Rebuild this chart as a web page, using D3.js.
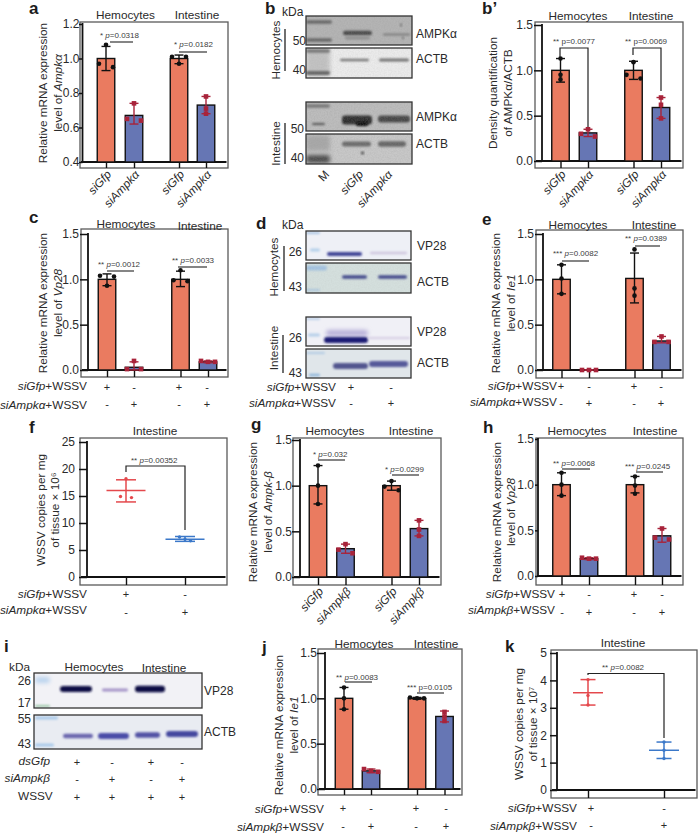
<!DOCTYPE html>
<html><head><meta charset="utf-8">
<script src="https://cdn.jsdelivr.net/npm/d3@7"></script>
<style>
html,body{margin:0;padding:0;background:#fff}
svg{display:block}
text{font-family:"Liberation Sans",Arial,sans-serif;fill:#2a2a2a}
</style></head><body><div id="chart"></div>
<script>
// ---------- DATA ----------
const headers = ["Hemocytes", "Intestine"];
const barIds = ["g1", "g2", "g3", "g4"];
const labelsA = ["siGfp", "siAmpkα", "siGfp", "siAmpkα"];
const labelsB = ["siGfp", "siAmpkβ", "siGfp", "siAmpkβ"];
const plusMinusA = [["+","-","+","-"],["-","+","-","+"]];

const aMeans=[1.0,0.67,1.0,0.73], aLo=[0.93,0.62,0.97,0.68], aHi=[1.07,0.74,1.02,0.78];
const aPts=[[1.08,0.95,0.97],[0.74,0.64,0.65],[1.01,1.01,0.97],[0.78,0.71,0.68]];
const bpMeans=[1.0,0.31,1.0,0.59], bpLo=[0.87,0.27,0.9,0.47], bpHi=[1.13,0.35,1.1,0.7];
const bpPts=[[1.13,0.95,0.9],[0.35,0.3,0.27],[1.09,0.95,0.91],[0.7,0.62,0.47]];
const cMeans=[1.0,0.03,1.0,0.09], cLo=[0.93,0,0.92,0.08], cHi=[1.06,0.09,1.09,0.1];
const cPts=[[1.04,1.03,0.93],[0.1,0.01,0.01],[1.1,0.98,0.99],[0.1,0.09,0.09]];
const eMeans=[1.0,0,1.01,0.32], eLo=[0.84,0,0.74,0.3], eHi=[1.16,0,1.29,0.37];
const ePts=[[1.16,1.01,0.84],[0,0,0],[1.33,0.9,0.82],[0.37,0.31,0.31]];
const gMeans=[1.0,0.31,1.0,0.53], gLo=[0.8,0.26,0.95,0.45], gHi=[1.22,0.36,1.05,0.62];
const gPts=[[1.22,1.0,0.8],[0.36,0.3,0.26],[1.05,0.99,0.95],[0.62,0.52,0.45]];
const hMeans=[1.0,0.19,1.0,0.44], hLo=[0.88,0.18,0.91,0.37], hHi=[1.13,0.2,1.09,0.52];
const hPts=[[1.13,1.0,0.88],[0.2,0.19,0.19],[1.09,0.99,0.9],[0.52,0.4,0.42]];
const jMeans=[1.0,0.2,1.0,0.8], jLo=[0.88,0.18,0.99,0.74], jHi=[1.12,0.22,1.01,0.86];
const jPts=[[1.12,1.0,0.88],[0.19,0.22,0.2],[1.0,1.01,1.0],[0.85,0.8,0.75]];
const fMeans=[16,7], fLo=[13.9,6.6], fHi=[18,7.5], fPts=[[18.2,14.7,14.9],[7.4,7.0,6.7]];
const kMeans=[3.55,1.45], kLo=[3.1,1.15], kHi=[4.03,1.75], kPts=[[4.03,3.45,3.1],[1.75,1.45,1.15]];

const ORANGE="#EA7B60", BLUE="#6676B4", DARKRED="#A8233A", LINERED="#E4484C", LINEBLUE="#3B78C9";
const FRAME="#5a5a5a";
const W=698,H=835;
const svg=d3.select("#chart").append("svg").attr("width",W).attr("height",H);
const defs=svg.append("defs");
[0.8,1.3,2.2].forEach((s,i)=>defs.append("filter").attr("id","blur"+i).attr("x","-30%").attr("y","-120%").attr("width","160%").attr("height","340%")
  .append("feGaussianBlur").attr("stdDeviation",s));
const grain=defs.append("filter").attr("id","grain").attr("x","0").attr("y","0").attr("width","100%").attr("height","100%");
grain.append("feTurbulence").attr("type","fractalNoise").attr("baseFrequency","0.7").attr("numOctaves","2").attr("seed","4");
grain.append("feColorMatrix").attr("values","0 0 0 0 0.3  0 0 0 0 0.3  0 0 0 0 0.3  0 0 0 1.1 -0.35");

function rich(parent,x,y,str,o={}){
  const t=parent.append("text").attr("x",x).attr("y",y).attr("font-size",o.size||11.8)
    .attr("text-anchor",o.anchor||"start");
  if(o.fill) t.style("fill",o.fill);
  if(o.bold) t.attr("font-weight","bold");
  if(o.mid) t.attr("dominant-baseline","central");
  str.split("_").forEach((s,i)=>{ if(s) t.append("tspan").attr("font-style",i%2?"italic":"normal").text(s); });
  return t;
}
function vtext(x,cy,str,o={}){
  return rich(svg,0,0,str,Object.assign({anchor:"middle"},o)).attr("transform",`translate(${x},${cy}) rotate(-90)`);
}
function letter(x,y,s){ rich(svg,x,y,s,{size:17,bold:true,fill:"#1c1c1c"}); }

function frameRect(f){
  svg.append("rect").attr("x",f[0]).attr("y",f[1]).attr("width",f[2]-f[0]).attr("height",f[3]-f[1])
    .attr("fill","none").attr("stroke",FRAME).attr("stroke-width",1.3);
}
function axes(c,ids,fmt){
  const y=d3.scaleLinear().domain(c.yDomain).range(c.yRange);
  const x=d3.scaleOrdinal().domain(ids).range(c.centers);
  const f=c.frame;
  const gy=svg.append("g").attr("transform",`translate(${c.axisX},0)`)
    .call(d3.axisLeft(y).tickValues(c.ticks).tickFormat(fmt).tickSize(c.axisX-f[0]+1).tickPadding(c.tickRight?0:2));
  gy.selectAll("text").attr("font-size",12).attr("x",c.tickRight-c.axisX);
  gy.selectAll("line").attr("stroke","#111").attr("stroke-width",1.5);
  gy.select(".domain").remove();
  svg.append("line").attr("x1",c.axisX).attr("x2",c.axisX).attr("y1",y(c.ticks[c.ticks.length-1])-1).attr("y2",c.yRange[0])
    .attr("stroke","#111").attr("stroke-width",1.8);
  const gx=svg.append("g").attr("transform",`translate(0,${c.yRange[0]})`)
    .call(d3.axisBottom(x).tickValues(ids).tickFormat("").tickSize(f[3]-c.yRange[0]));
  gx.select(".domain").remove();
  gx.selectAll("line").attr("stroke","#111").attr("stroke-width",1.4);
  svg.append("line").attr("x1",f[0]+1).attr("x2",f[2]-1.5).attr("y1",c.yRange[0]).attr("y2",c.yRange[0])
    .attr("stroke","#111").attr("stroke-width",1.8);
  return {x,y};
}
// spread nearly equal replicates sideways, like a swarm plot
function swarm(vals,y,step,near){
  const idx=vals.map((v,i)=>i).sort((a,b)=>vals[b]-vals[a]);
  const out=vals.map(()=>0); let run=[idx[0]];
  const flush=()=>{ if(run.length===2){out[run[0]]=-step;out[run[1]]=step;}
    if(run.length===3){out[run[0]]=-step;out[run[1]]=0;out[run[2]]=step;} };
  for(let i=1;i<idx.length;i++){
    if(Math.abs(y(vals[idx[i]])-y(vals[run[run.length-1]]))<near) run.push(idx[i]);
    else {flush();run=[idx[i]];}
  }
  flush(); return out;
}
function pvals(list){
  list.forEach(p=>{
    rich(svg,p.x,p.y,p.t,{size:8,fill:"#3d3d3d"});
    if(p.line) svg.append("line").attr("x1",p.line[0]).attr("x2",p.line[1]).attr("y1",p.line[2]).attr("y2",p.line[2])
      .attr("stroke","#222").attr("stroke-width",1.1);
    if(p.path) svg.append("path").attr("d",d3.line()(p.path)).attr("fill","none").attr("stroke","#222").attr("stroke-width",1.2);
  });
}
function pmRows(xs,rows,ys,sz){
  rows.forEach((r,ri)=>r.forEach((s,i)=>rich(svg,xs[i],ys[ri],s,{size:sz||11,anchor:"middle",mid:true})));
}
function rowLabels(list,x){ list.forEach(l=>rich(svg,x,l[1],l[0],{anchor:"end"})); }

function barPanel(c,means,lo,hi,pts,fmt){
  frameRect(c.frame);
  const {x,y}=axes(c,barIds,fmt);
  const bw=c.barW||17.5, base=c.yRange[0];
  svg.append("g").selectAll("rect").data(means).join("rect")
    .attr("x",(d,i)=>x(barIds[i])-bw/2).attr("width",bw)
    .attr("y",d=>y(d)).attr("height",d=>base-y(d))
    .attr("fill",(d,i)=>i%2?BLUE:ORANGE).attr("stroke","#111").attr("stroke-width",1.4);
  means.forEach((m,i)=>{
    const cx=x(barIds[i]), col=i%2?DARKRED:"#111";
    const g=svg.append("g").attr("stroke",col).attr("stroke-width",1.4);
    g.append("line").attr("x1",cx).attr("x2",cx).attr("y1",y(hi[i])).attr("y2",y(lo[i]));
    [lo[i],hi[i]].forEach(v=>g.append("line").attr("x1",cx-4.5).attr("x2",cx+4.5).attr("y1",y(v)).attr("y2",y(v)));
    const off=swarm(pts[i],y,7,4.2);
    pts[i].forEach((v,k)=>{
      if(i%2) svg.append("rect").attr("x",cx+off[k]-2.3).attr("y",y(v)-2.3).attr("width",4.6).attr("height",4.6).attr("fill",col);
      else svg.append("circle").attr("cx",cx+off[k]).attr("cy",y(v)).attr("r",2.3).attr("fill",col);
    });
  });
  c.heads.forEach((h,i)=>rich(svg,h[0],h[1],headers[i],{anchor:"middle"}));
  vtext(c.title[0],c.title[2],c.titleText[0]);
  vtext(c.title[1],c.title[2],c.titleText[1]);
  if(c.xLabels) c.xLabels.forEach((l,i)=>{
    rich(svg,0,0,"_"+l+"_",{anchor:"end"}).attr("transform",`translate(${c.centers[i]+c.xl[0]},${c.xl[1]}) rotate(-47)`);
  });
  pvals(c.p);
}
function scatterPanel(c,ids,means,lo,hi,pts,span,cap){
  frameRect(c.frame);
  const {x,y}=axes(c,ids,d3.format("d"));
  means.forEach((m,i)=>{
    const cx=x(ids[i]), col=i?LINEBLUE:LINERED;
    const g=svg.append("g").attr("stroke",col).attr("stroke-width",1.5);
    g.append("line").attr("x1",cx).attr("x2",cx).attr("y1",y(hi[i])).attr("y2",y(lo[i]));
    g.append("line").attr("x1",cx-span).attr("x2",cx+span).attr("y1",y(m)).attr("y2",y(m));
    [lo[i],hi[i]].forEach(v=>g.append("line").attr("x1",cx-cap).attr("x2",cx+cap).attr("y1",y(v)).attr("y2",y(v)));
    const off=swarm(pts[i],y,5.5,3);
    pts[i].forEach((v,k)=>svg.append("circle").attr("cx",cx+off[k]).attr("cy",y(v)).attr("r",1.7).attr("fill",col));
  });
  rich(svg,c.head[0],c.head[1],"Intestine",{anchor:"middle"});
  vtext(c.title[0],c.title[2],c.titleText[0]);
  vtext(c.title[1],c.title[2],c.titleText[1]);
  pvals(c.p);
}
const f1=d3.format(".1f");

// ---------- a ----------
barPanel({frame:[80,22,228,168],axisX:82.5,tickRight:79.5,yDomain:[0.4,1.2],yRange:[162,24],ticks:[0.4,0.6,0.8,1.0,1.2],
  centers:[106,134,179,206],heads:[[125.5,18.5],[197,18.5]],title:[46.5,62,93],
  titleText:["Relative mRNA expression","level of _Ampkα_"],xLabels:labelsA,xl:[6,175],
  p:[{x:100,y:37.5,t:"* _p_=0.0318",line:[110,133,42]},{x:174,y:47,t:"* _p_=0.0182",line:[179,207,52]}]},
  aMeans,aLo,aHi,aPts,f1);
// ---------- b' ----------
barPanel({frame:[535,22,683,168],axisX:542,tickRight:533,yDomain:[0,1.5],yRange:[161,25],ticks:[0,0.5,1.0,1.5],
  centers:[560.5,588,633.5,661],heads:[[578,20],[651,20]],title:[497,512,93],
  titleText:["Density quantification","of AMPKα/ACTB"],xLabels:labelsA,xl:[6,175],
  p:[{x:553,y:44,t:"** p=0.0077",path:[[560,57],[560,48],[588,48],[588,127]]},
     {x:625,y:44,t:"** p=0.0069",path:[[633,55],[633,48],[661,48],[661,91]]}]},
  bpMeans,bpLo,bpHi,bpPts,f1);
// ---------- c ----------
barPanel({frame:[81,229,228,377],axisX:88,tickRight:79,yDomain:[0,1.5],yRange:[370,234],ticks:[0,0.5,1.0,1.5],
  centers:[107,134,180.5,208],heads:[[126,228],[200,230]],title:[46.5,62,303],
  titleText:["Relative mRNA expression","level of _Vp28_"],
  p:[{x:98,y:267,t:"** _p_=0.0012",line:[107,134,271]},{x:172,y:263,t:"** _p_=0.0033",line:[178,207,267]}]},
  cMeans,cLo,cHi,cPts,f1);
rowLabels([["_siGfp_+WSSV",390],["_siAmpkα_+WSSV",409]],87);
pmRows([107,134,179,207],plusMinusA,[387,404]);
// ---------- e ----------
barPanel({frame:[536,230,683,378],axisX:543,tickRight:534,yDomain:[0,1.5],yRange:[370,234],ticks:[0,0.5,1.0,1.5],
  centers:[561.5,589,634.5,661.5],heads:[[578,229],[654,229]],title:[500,515,303],
  titleText:["Relative mRNA expression","level of _Ie1_"],
  p:[{x:553,y:256,t:"*** _p_=0.0082",line:[562,589,261]},{x:625,y:241,t:"** _p_=0.0389",line:[635,660,246]}]},
  eMeans,eLo,eHi,ePts,f1);
rowLabels([["_siGfp_+WSSV",390],["_siAmpkα_+WSSV",406]],557);
pmRows([561,589,634,661],plusMinusA,[386,403]);
// ---------- g ----------
barPanel({frame:[293,438,441,585],axisX:300,tickRight:292,yDomain:[0,1.5],yRange:[577,440],ticks:[0,0.5,1.0,1.5],
  centers:[318,345.5,391.5,419],heads:[[335,435],[411,435]],title:[257,272,512],
  titleText:["Relative mRNA expression","level of _Ampk-β_"],xLabels:labelsB,xl:[6,592],
  p:[{x:313,y:457,t:"* _p_=0.032",line:[318,345,460]},{x:385,y:472,t:"* _p_=0.0299",line:[392,419,475]}]},
  gMeans,gLo,gHi,gPts,f1);
// ---------- h ----------
barPanel({frame:[536,438,683,585],axisX:538,tickRight:534,yDomain:[0,1.5],yRange:[576,439],ticks:[0,0.5,1.0,1.5],
  centers:[561.5,589,635,662],heads:[[577,435],[655,435]],title:[501,515,512],
  titleText:["Relative mRNA expression","level of _Vp28_"],
  p:[{x:553,y:466,t:"** _p_=0.0068",line:[562,590,469]},{x:625,y:469,t:"*** _p_=0.0245",line:[636,663,472]}]},
  hMeans,hLo,hHi,hPts,f1);
rowLabels([["_siGfp_+WSSV",598],["_siAmpkβ_+WSSV",614]],555);
pmRows([562,589,634,662],plusMinusA,[594,612]);
// ---------- j ----------
barPanel({frame:[318,649,462,795],axisX:325,tickRight:317,yDomain:[0,1.5],yRange:[789,653],ticks:[0,0.5,1.0,1.5],
  centers:[344,371,417,444.5],heads:[[364,648],[436,648]],title:[283,298,725],
  titleText:["Relative mRNA expression","level of _Ie1_"],
  p:[{x:336,y:680,t:"** _p_=0.0083",line:[345,372,682]},{x:407,y:690,t:"*** p=0.0105",line:[417,444,693]}]},
  jMeans,jLo,jHi,jPts,f1);
rowLabels([["_siGfp_+WSSV",813],["_siAmpkβ_+WSSV",831]],324);
pmRows([343,371,416,446],plusMinusA,[808,826]);
// ---------- f ----------
scatterPanel({frame:[80,438,227,585],axisX:87,tickRight:75,yDomain:[0,25],yRange:[577,442],ticks:[0,5,10,15,20,25],
  centers:[126,185],head:[155,435],title:[45,59,510],titleText:["WSSV copies per mg","of tissue × 10⁶"],
  p:[{x:131,y:463,t:"** _p_=0.00352",path:[[126,472],[126,466],[185,466],[185,530]]}]},
  ["s1","s2"],fMeans,fLo,fHi,fPts,19.5,10);
rowLabels([["_siGfp_+WSSV",598],["_siAmpkα_+WSSV",614]],87);
pmRows([126,185],[["+","-"],["-","+"]],[594,612]);
// ---------- k ----------
scatterPanel({frame:[551,650,697,798],axisX:557,tickRight:547,yDomain:[0,5],yRange:[790,653],ticks:[0,1,2,3,4,5],
  centers:[588,664],head:[623,647],title:[523,537,724],titleText:["WSSV copies per mg","of tissue × 10⁷"],
  p:[{x:602,y:670,t:"** _p_=0.0082",path:[[588,675],[588,673.5],[664,673.5],[664,738]]}]},
  ["s1","s2"],kMeans,kLo,kHi,kPts,15,7.5);
rowLabels([["_siGfp_+WSSV",812],["_siAmpkβ_+WSSV",830]],577);
pmRows([591,664],[["+","-"],["-","+"]],[808,825]);

// ---------- blots (images in the source, painted as blurred bands) ----------
function blot(box,bg,bands,noise){
  const [x0,y0,x1,y1]=box;
  const clip="c"+x0+"_"+y0;
  defs.append("clipPath").attr("id",clip).append("rect").attr("x",x0).attr("y",y0).attr("width",x1-x0).attr("height",y1-y0);
  svg.append("rect").attr("x",x0).attr("y",y0).attr("width",x1-x0).attr("height",y1-y0).attr("fill",bg);
  const g=svg.append("g").attr("clip-path",`url(#${clip})`);
  bands.forEach(b=>{
    g.append("rect").attr("x",b[0]).attr("width",b[1]-b[0]).attr("y",b[2]-b[3]/2).attr("height",b[3]).attr("rx",Math.min(b[3]/2,3))
      .attr("fill",b[4]).attr("filter",`url(#blur${b[5]===undefined?1:b[5]})`);
  });
  if(noise) svg.append("rect").attr("x",x0).attr("y",y0).attr("width",x1-x0).attr("height",y1-y0)
    .attr("filter","url(#grain)").attr("opacity",noise);
  svg.append("rect").attr("x",x0).attr("y",y0).attr("width",x1-x0).attr("height",y1-y0)
    .attr("fill","none").attr("stroke","#333").attr("stroke-width",1.3);
}
function blotText(list){ list.forEach(l=>rich(svg,l[0],l[1],l[2],{size:12,mid:true,anchor:l[3]||"start"})); }
function vbar(x,y0,y1){ svg.append("line").attr("x1",x).attr("x2",x).attr("y1",y0).attr("y2",y1).attr("stroke","#222").attr("stroke-width",1.3); }

// b
blot([306,16,412,45],"#b4b4b4",[[306,332,22,3.5,"#666"],[306,332,40,3.5,"#666"],[343,372,33,4.5,"#4a4a4a"],[345,370,38,3,"#8f8f8f"],[383,410,34.5,1.8,"#7a7a7a",0],[400,402,25,1.6,"#222",0],[402,404,38,1.6,"#333",0]],0.35);
blot([306,48,412,78],"#ebebeb",[[306,330,62,28,"#c2c2c2",2],[306,330,51,3.5,"#777"],[306,330,73,4,"#666"],[340,369,60,2.6,"#777",0],[379,409,60,3.2,"#727272",0]],0.2);
blot([306,102,412,131],"#bdbdbd",[[306,330,106,3.5,"#777"],[342,372,120,9,"#2e2e2e"],[378,410,119,7,"#474747"],[312,325,124,1.5,"#333",0],[356,368,124,4,"#080808"]],0.4);
blot([306,134,412,164],"#c8c8c8",[[306,330,159,8,"#4a4a4a",2],[306,330,143,16,"#a8a8a8",2],[342,371,144,5,"#6a6a6a"],[378,406,144,5.5,"#666"],[361,364,153,2,"#111",0]],0.35);
rich(svg,282,16,"kDa",{size:12});
vtext(279.5,50,"Hemocytes",{size:11.8}); vtext(279.5,143.5,"Intestine",{size:11.8});
vbar(285,29,71); vbar(285,123,164);
blotText([[306,41,"50","end"],[306,70,"40","end"],[304,129,"50","end"],[304,158,"40","end"],
  [416,34,"AMPKα"],[416,59,"ACTB"],[416,117,"AMPKα"],[416,144,"ACTB"]]);
["M","_siGfp_","_siAmpkα_"].forEach((t,i)=>rich(svg,0,0,t,{anchor:"end"}).attr("transform",`translate(${[330,364,393][i]},175) rotate(-47)`));

// d
blot([306,231,411,260],"#eef0f6",[[306,320,233,2,"#a7c4e2"],[310,320,250,3,"#b4d0ea"],[327,362,254,4,"#3f4496"],[370,407,253,2.4,"#cfc6df"]]);
blot([306,263,411,293],"#d4dfdd",[[306,327,268,5,"#a4c3e0"],[342,367,277,3.4,"#43498c",0],[378,407,277,3.4,"#43498c",0],[306,320,290,2,"#aac6dd"]],0.12);
blot([306,317,411,346],"#f0f0f6",[[306,320,319,2,"#bcd1ea"],[308,320,335,3,"#b6cfe9"],[326,368,333,6,"#b6aed8",2],[324,368,340,6,"#1c1f75"],[368,410,338,2,"#d6cee3"]]);
blot([306,349,411,378],"#e0e6ea",[[306,325,353,2,"#b2cbe4"],[309,320,375,2.5,"#8fb6da"],[333,368,366,6,"#53578f"],[369,408,364,6,"#565a9a"]]);
rich(svg,282,229,"kDa",{size:12});
vtext(278,267,"Hemocytes",{size:11.8}); vtext(278,348,"Intestine",{size:11.8});
vbar(284,246,291); vbar(283,335,373);
blotText([[302,252,"26","end"],[302,287,"43","end"],[302,338,"26","end"],[302,373,"43","end"],
  [417,246,"VP28"],[417,282,"ACTB"],[417,332,"VP28"],[417,363,"ACTB"]]);
rowLabels([["_siGfp_+WSSV",391],["_siAmpkα_+WSSV",407]],336);
pmRows([351,391],[["+","-"],["-","+"]],[387,403]);

// i
blot([34,673,202,708],"#f2f2f6",[[35,50,680,6,"#b9d3ee",2],[35,50,706,2,"#9cc7a8"],[60,92,689,6,"#0d0d45"],[102,128,690,2.8,"#a493c8"],[135,165,689,6.5,"#0d0d45"]]);
blot([34,715,202,749],"#e9ecf2",[[35,58,718,3,"#a9c9ea"],[35,54,745,3,"#a9c9ea"],[63,93,736,4.5,"#6a66ae"],[98,129,736,6,"#4c4ea8"],[135,160,735,5.5,"#5253a5"],[166,198,734,6,"#45489f"]]);
rich(svg,9,671,"kDa",{size:11.8});
blotText([[31,681,"26","end"],[31,703,"17","end"],[31,719,"55","end"],[31,744,"43","end"],[204,691,"VP28"],[204,732,"ACTB"]]);
rich(svg,94,671,headers[0],{anchor:"middle"});
rich(svg,164,672,headers[1],{anchor:"middle"});
rowLabels([["_dsGfp_",765],["_siAmpkβ_",782]],50);
rich(svg,18,800,"WSSV",{});
pmRows([77,112,151,182],[["+","-","+","-"],["-","+","-","+"],["+","+","+","+"]],[762,779,797]);

// panel letters
[[29,14,"a"],[265,14,"b"],[482,14,"b’"],[29,223,"c"],[256,229,"d"],[482,225,"e"],
 [29,433,"f"],[251,430,"g"],[483,433,"h"],[4,652,"i"],[262,653,"j"],[505,652,"k"]].forEach(l=>letter(l[0],l[1],l[2]));
</script></body></html>
